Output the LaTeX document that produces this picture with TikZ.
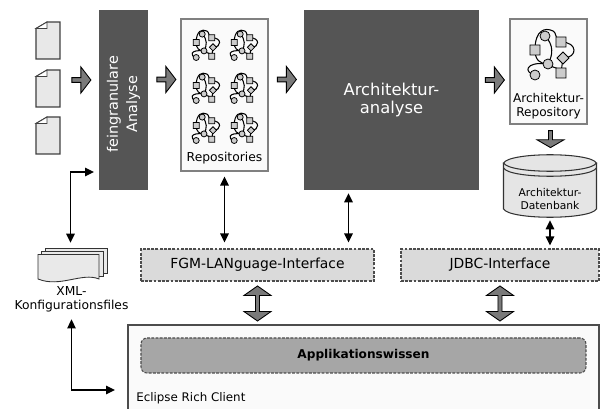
\documentclass[tikz,border=0pt]{standalone}
\usepackage{fontspec}
\setmainfont{DejaVu Sans}
\usetikzlibrary{arrows.meta,shapes.arrows}
\newdimen\px
\px=0.02cm
\definecolor{darkbox}{HTML}{555555}
\definecolor{blockgray}{HTML}{7A7A7A}
\definecolor{ifacegray}{HTML}{DADADA}
\definecolor{wissengray}{HTML}{A6A6A6}
\definecolor{icongray}{HTML}{CCCCCC}
\tikzset{
  pics/docpage/.style={code={
    \draw[fill=black!9,draw=black!75,line width=0.6pt]
      (-12,-12) -- (-1,-18.5) -- (12,-18.5) -- (12,18.5) -- (-12,18.5) -- cycle;
    \draw[fill=white,draw=black!75,line width=0.5pt] (-12,-12) -- (-1,-12) -- (-1,-18.5) -- cycle;
  }},
  pics/repoicon/.style={code={
    \draw[line width=0.6pt]
      (-13,-5) .. controls (-13,-25) and (-3,-28) .. (5,-24)
               .. controls (8,-24) and (8,-13) .. (13,-13)
               .. controls (30,-13) and (30,3) .. (15,3)
      (-3,-19) .. controls (6,-10) and (5,0) .. (0,9)
      (-13,-5) .. controls (-13,5) and (-8,9) .. (0,9)
      (-13,20) .. controls (-24,18) and (-24,6) .. (0,9)
      (0,9) .. controls (5,14) and (13,12) .. (13,18)
      (15,3) -- (13,18);
    \draw[fill=icongray,line width=0.45pt]
      (-3,-19) circle (5)
      (0,9) circle (5)
      (-13,20) circle (5)
      (-18,-10) rectangle (-8,0)
      (8,-18) rectangle (18,-8)
      (8,13) rectangle (18,23)
      (15,-3) -- (21,3) -- (15,9) -- (9,3) -- cycle;
  }}
}
\begin{document}
\begin{tikzpicture}[x=0.02cm,y=-0.02cm,>={Triangle[length=1.8mm,width=1.7mm]},
  darknode/.style={fill=darkbox,text=white,align=center,inner sep=0pt},
  whitebox/.style={draw=black!50,fill=black!2,line width=0.7pt,inner sep=0pt},
  iface/.style={draw=black!70,fill=ifacegray,dash pattern=on 1.6pt off 0.8pt,line width=0.6pt,
    minimum width=233\px,minimum height=32\px,inner sep=0pt,font=\fontsize{7.9}{9}\selectfont},
  blockright/.style={single arrow,draw=black,fill=blockgray,line width=0.5pt,inner sep=0pt,
    minimum height=19\px,minimum width=26\px,single arrow head extend=2\px,single arrow tip angle=105},
  blockdown/.style={blockright,shape border rotate=270,minimum width=27\px,minimum height=17\px,
    single arrow head extend=2.5\px,single arrow tip angle=120},
  blockboth/.style={double arrow,draw=black,fill=blockgray,line width=0.5pt,inner sep=0pt,
    shape border rotate=90,minimum height=35\px,minimum width=27\px,double arrow head extend=2.5\px,
    double arrow tip angle=110},
  linkarrow/.style={<->,line width=0.75pt}]

  \useasboundingbox (0,0) rectangle (600,409);

  % input files
  \pic at (48,40.5) {docpage};
  \pic at (48,88.5) {docpage};
  \pic at (48,135.5) {docpage};

  % analysis chain
  \node[blockright] (arrowa) at (80.5,80) {};
  \node[darknode,minimum width=49\px,minimum height=180\px] (fein) at (123.5,100) {};
  \node[rotate=90,text=white,align=center,font=\fontsize{8.2}{11}\selectfont] (feintext) at (123.5,104) {feingranulare\\Analyse};
  \node[blockright] (arrowb) at (165.5,79.5) {};
  \node[whitebox,minimum width=87\px,minimum height=152\px] (repos) at (224.5,95) {};
  \pic[scale=.6] at (204,45.5) {repoicon};
  \pic[scale=.6] at (242,45.5) {repoicon};
  \pic[scale=.6] at (204,88.5) {repoicon};
  \pic[scale=.6] at (242,88.5) {repoicon};
  \pic[scale=.6] at (204,128.5) {repoicon};
  \pic[scale=.6] at (242,128.5) {repoicon};
  \node[font=\fontsize{7}{8}\selectfont] (repostext) at (224.5,158.5) {Repositories};
  \node[blockright] (arrowc) at (286,79.5) {};
  \node[darknode,minimum width=175\px,minimum height=180\px,font=\fontsize{9.3}{10.5}\selectfont] (ana) at (391.5,100) {Architektur-\\analyse};
  \node[blockright] (arrowd) at (494,80) {};
  \node[whitebox,minimum width=77\px,minimum height=105\px] (archrepo) at (548.5,71.5) {};
  \pic at (548,55) {repoicon};
  \node[align=center,font=\fontsize{6.9}{8}\selectfont] (archtext) at (548.5,106.5) {Architektur-\\Repository};
  \node[blockdown] (arrowe) at (550.5,138.5) {};

  % database
  \draw[fill=ifacegray!70,draw=black!80,line width=0.6pt]
    (503.5,163) -- (503.5,209) .. controls (510,220) and (590,220) .. (596.5,209) -- (596.5,163);
  \draw[fill=ifacegray!70,draw=black!80,line width=0.6pt]
    (503.5,163) .. controls (510,152) and (590,152) .. (596.5,163)
    .. controls (590,174) and (510,174) .. cycle;
  \draw[draw=black!80,line width=0.6pt]
    (503.5,168) .. controls (510,179) and (590,179) .. (596.5,168);
  \node[align=center,inner sep=0pt,minimum width=93\px,minimum height=36\px,
    font=\fontsize{6.1}{7.8}\selectfont] (dbase) at (550,199) {Architektur-\\Datenbank};

  % xml files
  \draw[fill=ifacegray!60,draw=black!80,line width=0.5pt] (45,248) -- (107,248) -- (107,273) -- (45,273) -- cycle;
  \draw[fill=ifacegray!60,draw=black!80,line width=0.5pt] (41,251) -- (103,251) -- (103,276) -- (41,276) -- cycle;
  \draw[fill=ifacegray!60,draw=black!80,line width=0.5pt]
    (38,254.5) -- (99,254.5) -- (99,279) .. controls (82,272) and (60,288) .. (38,279) -- cycle;
  \node[minimum width=70\px,minimum height=35\px,inner sep=0pt] (xml) at (70.5,265.5) {};
  \node[align=center,inner sep=1pt,font=\fontsize{7}{8}\selectfont] (xmltext) at (71.5,299.5) {XML-\\Konfigurationsfiles};

  % interfaces
  \node[iface] (fgm) at (257.5,265) {FGM-LANguage-Interface};
  \node[iface,minimum width=198\px] (jdbc) at (500,265) {JDBC-Interface};
  \node[blockboth] (bothfgm) at (257.5,303.5) {};
  \node[blockboth] (bothjdbc) at (500,303.5) {};

  % client
  \node[draw=black!70,fill=black!2,line width=0.7pt,minimum width=471\px,minimum height=90\px,inner sep=0pt] (client) at (363.5,370) {};
  \node[draw=black!70,fill=wissengray,dash pattern=on 1.6pt off 0.8pt,line width=0.6pt,rounded corners=1.2mm,
    minimum width=445\px,minimum height=35\px,inner sep=0pt,font=\bfseries\fontsize{6.9}{8}\selectfont] (wissen) at (363.5,355.5) {Applikationswissen};
  \node[anchor=west,inner sep=0pt,font=\fontsize{6.75}{8}\selectfont] (eclipse) at (136,398) {Eclipse Rich Client};

  % links
  \coordinate (feinport) at (94,172);
  \coordinate (clientport) at (115,390);
  \draw[linkarrow,shorten >=5\px] (feinport) -| (xml.north);
  \draw[linkarrow,shorten <=5\px] (xmltext.south) |- (clientport);
  \draw[linkarrow,shorten <=5\px,shorten >=6\px] (repos.south) -- (repos.south |- fgm.north);
  \draw[linkarrow,shorten <=3\px,shorten >=6\px] ([xshift=-43\px]ana.south) -- ([xshift=-43\px]ana.south |- fgm.north);
  \draw[linkarrow,shorten <=3\px,shorten >=3\px] (dbase.south) -- (dbase.south |- jdbc.north);
\end{tikzpicture}
\end{document}
